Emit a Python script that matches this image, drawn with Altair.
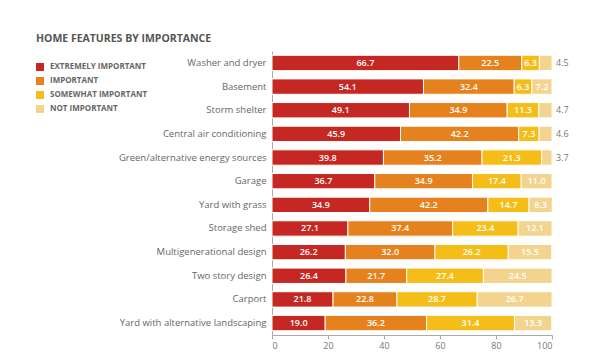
import altair as alt
import pandas as pd

features = [
    "Washer and dryer", "Basement", "Storm shelter", "Central air conditioning",
    "Green/alternative energy sources", "Garage", "Yard with grass", "Storage shed",
    "Multigenerational design", "Two story design", "Carport",
    "Yard with alternative landscaping",
]
categories = ["EXTREMELY IMPORTANT", "IMPORTANT", "SOMEWHAT IMPORTANT", "NOT IMPORTANT"]
extremely = [66.7, 54.1, 49.1, 45.9, 39.8, 36.7, 34.9, 27.1, 26.2, 26.4, 21.8, 19.0]
important = [22.5, 32.4, 34.9, 42.2, 35.2, 34.9, 42.2, 37.4, 32.0, 21.7, 22.8, 36.2]
somewhat = [6.3, 6.3, 11.3, 7.3, 21.3, 17.4, 14.7, 23.4, 26.2, 27.4, 28.7, 31.4]
not_imp = [4.5, 7.2, 4.7, 4.6, 3.7, 11.0, 8.3, 12.1, 15.5, 24.5, 26.7, 13.3]
colors = ["#C52822", "#E6821E", "#F5BD18", "#F2D48E"]

rows = []
for i, f in enumerate(features):
    for j, (c, vals) in enumerate(zip(categories, [extremely, important, somewhat, not_imp])):
        rows.append({"feature": f, "category": c, "value": vals[i], "order": j})
df = pd.DataFrame(rows)

FONT = "Open Sans"

base = alt.Chart(df).transform_stack(
    stack="value", groupby=["feature"], sort=[alt.SortField("order")], as_=["x0", "x1"]
).transform_calculate(mid="(datum.x0 + datum.x1) / 2")

y = alt.Y("feature:N", sort=features, title=None,
          scale=alt.Scale(paddingInner=0.35, paddingOuter=0.18),
          axis=alt.Axis(labelFont=FONT, labelFontSize=9.5, labelColor="#666666",
                        ticks=False, labelPadding=6, domainColor="#aaaaaa"))

bars = base.mark_bar(stroke="white", strokeWidth=1).encode(
    x=alt.X("x0:Q", title=None, scale=alt.Scale(domain=[0, 100], nice=False),
            axis=alt.Axis(values=[0, 20, 40, 60, 80, 100], labelFont=FONT, labelFontSize=9,
                          labelColor="#777777", tickColor="#aaaaaa", domainColor="#aaaaaa",
                          tickSize=4, labelPadding=2, grid=False)),
    x2="x1:Q",
    y=y,
    color=alt.Color("category:N", sort=categories,
                    scale=alt.Scale(domain=categories, range=colors),
                    legend=alt.Legend(title=None, orient="none", legendX=-236, legendY=12,
                                      symbolType="square", symbolSize=64, symbolStrokeWidth=0,
                                      labelFont=FONT, labelFontSize=8, labelFontWeight="bold",
                                      labelColor="#666666", rowPadding=6, labelOffset=6,
                                      padding=0)),
)

inside = base.transform_filter("datum.value >= 5").mark_text(
    color="white", font=FONT, fontSize=9, fontWeight=600
).encode(x="mid:Q", y=alt.Y("feature:N", sort=features), text=alt.Text("value:Q", format=".1f"))

outside = base.transform_filter("datum.value < 5").mark_text(
    color="#777777", font=FONT, fontSize=9, fontWeight="normal", align="left", dx=4
).encode(x="x1:Q", y=alt.Y("feature:N", sort=features), text=alt.Text("value:Q", format=".1f"))

chart = alt.layer(bars, inside, outside).properties(
    width=280, height=284,
    autosize=alt.AutoSizeParams(type="none"),
    padding={"left": 264, "top": 43, "right": 40, "bottom": 17},
    title=alt.TitleParams("HOME FEATURES BY IMPORTANCE", anchor="start", frame="group",
                          dx=-236, font=FONT, fontSize=10.5, fontWeight="bold",
                          color="#555555", offset=7),
).configure_view(stroke=None)

chart.save("out.html", embed_options={"renderer": "svg", "actions": False})
